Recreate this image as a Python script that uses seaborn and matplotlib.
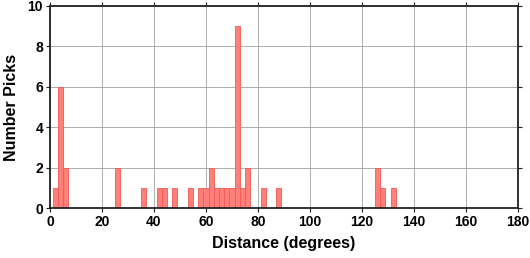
import numpy as np
import pandas as pd
import matplotlib
matplotlib.use("Agg")
import matplotlib.pyplot as plt
import seaborn as sns

# Bin centres (degrees) and pick counts
distance = [2, 4, 6, 26, 36, 42, 44, 48, 54, 58, 60, 62, 64, 66, 68, 70, 72, 74, 76, 82, 88, 126, 128, 132]
picks    = [1, 6, 2, 2,  1,  1,  1,  1,  1,  1,  1,  2,  1,  1,  1,  1,  9,  1,  2,  1,  1,  2,   1,   1]
x_ticks = [0, 20, 40, 60, 80, 100, 120, 140, 160, 180]
y_ticks = [0, 2, 4, 6, 8, 10]

df = pd.DataFrame({"distance": distance, "picks": picks})

sns.set_theme(style="white")
plt.rcParams["font.family"] = ["Liberation Sans", "DejaVu Sans"]
plt.rcParams["font.weight"] = "bold"
plt.rcParams["text.color"] = "black"
plt.rcParams["axes.labelcolor"] = "black"
plt.rcParams["xtick.color"] = "black"
plt.rcParams["ytick.color"] = "black"

fig = plt.figure(figsize=(5.3, 2.58), dpi=100)
ax = fig.add_axes([50/530, 50/258, 468/530, 202/258])

sns.histplot(data=df, x="distance", weights="picks", binwidth=2, binrange=(-1, 181),
             color="#ff7f7a", edgecolor="#f25a55", linewidth=0.6, alpha=1.0, ax=ax)

ax.set_xlim(0, 180)
ax.set_ylim(0, 10)
ax.set_xticks(x_ticks)
ax.set_yticks(y_ticks)
ax.grid(True, color="#a0a0a0", linewidth=0.6)
ax.set_axisbelow(True)
for s in ax.spines.values():
    s.set_color("#222222")
    s.set_linewidth(1.3)
ax.tick_params(axis="both", which="both", direction="out", length=3, width=0.8,
               color="#222222", labelcolor="black", labelsize=10, pad=2,
               top=True, right=True, bottom=True, left=True,
               labeltop=False, labelright=False)
for lab in ax.get_xticklabels() + ax.get_yticklabels():
    lab.set_fontweight("bold")
ax.set_xlabel("Distance (degrees)", fontsize=11.5, fontweight="bold", labelpad=5, color="black")
ax.set_ylabel("Number Picks", fontsize=11.5, fontweight="bold", labelpad=6, color="black")

fig.savefig("out.png", dpi=100)
